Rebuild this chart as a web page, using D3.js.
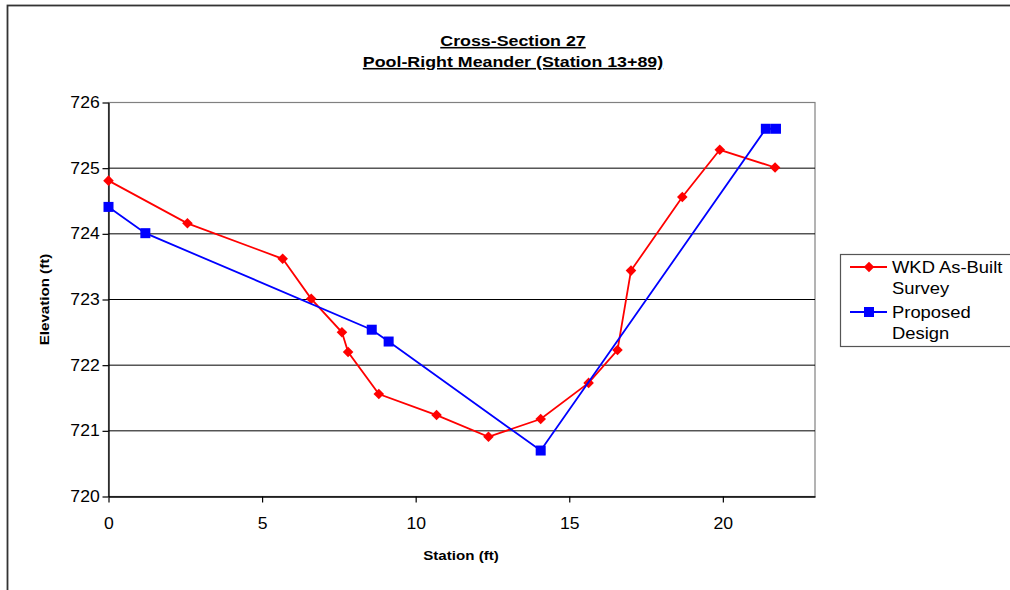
<!DOCTYPE html>
<html>
<head>
<meta charset="utf-8">
<script src="https://cdn.jsdelivr.net/npm/d3@7"></script>
<style>
  body { margin: 0; background: #fff; }
  text { font-family: "Liberation Sans", Arial, sans-serif; fill: #000; }
</style>
</head>
<body>
<div id="chart"></div>
<script>
// WKD As-Built Survey
var surveyStation = [0, 2.57, 5.67, 6.60, 7.60, 7.80, 8.80, 10.68, 12.37, 14.07, 15.63, 16.57, 17.01, 18.68, 19.90, 21.70];
var surveyElev = [724.81, 724.16, 723.62, 723.01, 722.50, 722.20, 721.56, 721.24, 720.91, 721.18, 721.73, 722.23, 723.44, 724.56, 725.28, 725.01];
// Proposed Design
var designStation = [0, 1.20, 8.57, 9.12, 14.07, 21.40, 21.73];
var designElev = [724.41, 724.01, 722.54, 722.36, 720.70, 725.60, 725.60];

var xTicks = [0, 5, 10, 15, 20];
var yTicks = [720, 721, 722, 723, 724, 725, 726];

var W = 1010, H = 590;
var pLeft = 108.5, pRight = 815, pTop = 102.5, pBottom = 496.5;

var x = d3.scaleLinear().domain([0, 23]).range([pLeft, pRight]);
var y = d3.scaleLinear().domain([720, 726]).range([pBottom, pTop]);

var svg = d3.select("#chart").append("svg")
  .attr("width", W)
  .attr("height", H);

svg.append("rect").attr("width", W).attr("height", H).attr("fill", "#fff");

// outer chart border (runs off the right/bottom edge)
svg.append("rect")
  .attr("x", 7.5).attr("y", 5.5)
  .attr("width", W + 20).attr("height", H + 20)
  .attr("fill", "none")
  .attr("stroke", "#333")
  .attr("stroke-width", 1.8);

// text with a horizontal stretch
function stext(g, tx, ty, str, size, weight, anchor, sx) {
  return g.append("text")
    .attr("transform", "translate(" + tx + "," + ty + ") scale(" + sx + ",1)")
    .attr("text-anchor", anchor)
    .style("font-size", size + "px")
    .style("font-weight", weight)
    .text(str);
}

// title
stext(svg, 513, 46, "Cross-Section 27", 15.5, "bold", "middle", 1.15)
  .style("text-decoration", "underline");
stext(svg, 513, 67, "Pool-Right Meander (Station 13+89)", 15.5, "bold", "middle", 1.15)
  .style("text-decoration", "underline");

// plot area border
svg.append("rect")
  .attr("x", pLeft).attr("y", pTop)
  .attr("width", pRight - pLeft).attr("height", pBottom - pTop)
  .attr("fill", "none")
  .attr("stroke", "#808080")
  .attr("stroke-width", 1.2);

// gridlines
svg.append("g").selectAll("line")
  .data(yTicks.slice(1, -1))
  .enter().append("line")
  .attr("x1", pLeft).attr("x2", pRight)
  .attr("y1", function(d) { return y(d); })
  .attr("y2", function(d) { return y(d); })
  .attr("stroke", "#000")
  .attr("stroke-width", 1);

// axes
var xAxis = d3.axisBottom(x).tickValues(xTicks).tickSize(6).tickSizeOuter(0).tickPadding(15);
var yAxis = d3.axisLeft(y).tickValues(yTicks).tickSize(6).tickSizeOuter(0).tickPadding(6)
  .tickFormat(d3.format("d"));

var gx = svg.append("g")
  .attr("transform", "translate(0," + pBottom + ")")
  .call(xAxis);
gx.selectAll("text")
  .style("font-size", "16px")
  .attr("transform", "scale(1.1,1)");

var gy = svg.append("g")
  .attr("transform", "translate(" + pLeft + ",0)")
  .call(yAxis);
gy.selectAll("text")
  .style("font-size", "16px")
  .attr("x", -8)
  .attr("transform", "scale(1.1,1)");

[gx, gy].forEach(function(g) {
  g.select(".domain").attr("stroke", "#000").attr("stroke-width", 1.3);
  g.selectAll(".tick line").attr("stroke", "#000").attr("stroke-width", 1.2);
  g.selectAll("text").style("font-family", "'Liberation Sans', Arial, sans-serif").attr("fill", "#000");
});

// axis titles
stext(svg, 461, 560, "Station (ft)", 13.5, "bold", "middle", 1.12);
svg.append("g").attr("transform", "translate(49," + ((pTop + pBottom) / 2) + ") rotate(-90)")
  .call(function(g) { stext(g, 0, 0, "Elevation (ft)", 13.5, "bold", "middle", 1.12); });

// series
var survey = surveyStation.map(function(s, i) { return [s, surveyElev[i]]; });
var design = designStation.map(function(s, i) { return [s, designElev[i]]; });

var line = d3.line()
  .x(function(d) { return x(d[0]); })
  .y(function(d) { return y(d[1]); });

function drawSeries(data, color, kind) {
  svg.append("path")
    .datum(data)
    .attr("d", line)
    .attr("fill", "none")
    .attr("stroke", color)
    .attr("stroke-width", 1.8);
  var g = svg.append("g");
  if (kind === "diamond") {
    g.selectAll("path").data(data).enter().append("path")
      .attr("d", d3.symbol().type(d3.symbolSquare).size(56))
      .attr("transform", function(d) { return "translate(" + x(d[0]) + "," + y(d[1]) + ") rotate(45)"; })
      .attr("fill", color);
  } else {
    g.selectAll("rect").data(data).enter().append("rect")
      .attr("x", function(d) { return x(d[0]) - 5; })
      .attr("y", function(d) { return y(d[1]) - 5; })
      .attr("width", 10).attr("height", 10)
      .attr("fill", color);
  }
}

drawSeries(survey, "#ff0000", "diamond");
drawSeries(design, "#0000ff", "square");

// legend
var lg = svg.append("g");
lg.append("rect")
  .attr("x", 840.5).attr("y", 254.5)
  .attr("width", 200).attr("height", 92)
  .attr("fill", "#fff")
  .attr("stroke", "#555")
  .attr("stroke-width", 1.2);

var legendItems = [
  { color: "#ff0000", kind: "diamond", lines: ["WKD As-Built", "Survey"], y: 267 },
  { color: "#0000ff", kind: "square", lines: ["Proposed", "Design"], y: 312 }
];
legendItems.forEach(function(it) {
  lg.append("line")
    .attr("x1", 850).attr("x2", 887)
    .attr("y1", it.y).attr("y2", it.y)
    .attr("stroke", it.color).attr("stroke-width", 1.8);
  if (it.kind === "diamond") {
    lg.append("path")
      .attr("d", d3.symbol().type(d3.symbolSquare).size(56))
      .attr("transform", "translate(869," + it.y + ") rotate(45)")
      .attr("fill", it.color);
  } else {
    lg.append("rect")
      .attr("x", 869 - 5).attr("y", it.y - 5)
      .attr("width", 10).attr("height", 10)
      .attr("fill", it.color);
  }
  it.lines.forEach(function(t, k) {
    stext(lg, 892, it.y + 6 + k * 21, t, 16, "normal", "start", 1.15);
  });
});
</script>
</body>
</html>
